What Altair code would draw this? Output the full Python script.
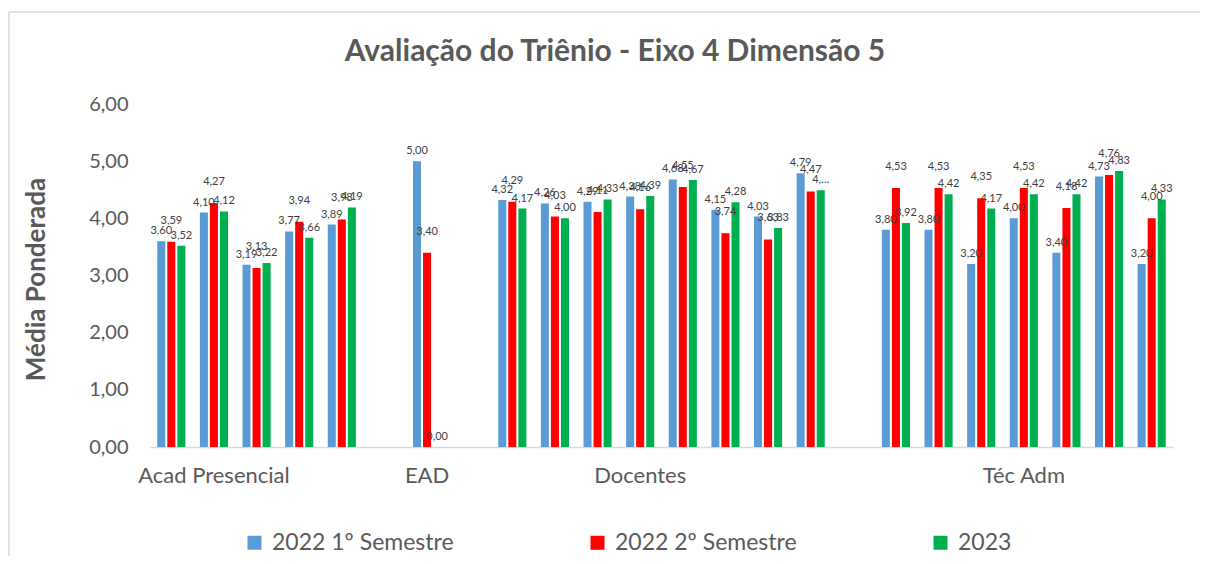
import altair as alt
import pandas as pd

title_text = "Avaliação do Triênio - Eixo 4 Dimensão 5"
y_title = "Média Ponderada"
series_names = ["2022 1º Semestre", "2022 2º Semestre", "2023"]
series_colors = ["#5B9BD5", "#FF0000", "#00B050"]
n_slots = 24
slots = [0, 1, 2, 3, 4, 6, 8, 9, 10, 11, 12, 13, 14, 15, 17, 18, 19, 20, 21, 22, 23]
s1 = [3.60, 4.10, 3.19, 3.77, 3.89, 5.00, 4.32, 4.26, 4.29, 4.38, 4.68, 4.15, 4.03, 4.79,
      3.80, 3.80, 3.20, 4.00, 3.40, 4.73, 3.20]
s2 = [3.59, 4.27, 3.13, 3.94, 3.98, 3.40, 4.29, 4.03, 4.11, 4.16, 4.55, 3.74, 3.63, 4.47,
      4.53, 4.53, 4.35, 4.53, 4.18, 4.76, 4.00]
s3 = [3.52, 4.12, 3.22, 3.66, 4.19, 0.00, 4.17, 4.00, 4.33, 4.39, 4.67, 4.28, 3.83, 4.49,
      3.92, 4.42, 4.17, 4.42, 4.42, 4.83, 4.33]
group_names = ["Acad Presencial", "EAD", "Docentes", "Téc Adm"]
group_label_slots = [1, 6, 11, 20]
y_ticks = [0, 1, 2, 3, 4, 5, 6]
truncated_labels = {(15, "2023"): "4,…"}

rows = []
for sname, vals in zip(series_names, [s1, s2, s3]):
    for slot, v in zip(slots, vals):
        lab = truncated_labels.get((slot, sname), f"{v:.2f}".replace(".", ","))
        rows.append(dict(slot=slot, series=sname, value=v, label=lab))
df = pd.DataFrame(rows)

label_expr = ""
for s, g in zip(group_label_slots, group_names):
    label_expr += f"datum.value == {s} ? '{g}' : "
label_expr += "''"

FONT = "Lato"
GREY = "#595959"

x_enc = alt.X(
    "slot:O",
    scale=alt.Scale(domain=list(range(n_slots)), paddingInner=0.34, paddingOuter=0.17),
    axis=alt.Axis(title=None, labelExpr=label_expr, ticks=False, domainColor="#D9D9D9",
                  domainWidth=1.5, labelFontSize=22, labelColor=GREY, labelPadding=18,
                  labelAngle=0, labelOverlap=False, labelFont=FONT, labelLimit=400),
)
xo_enc = alt.XOffset("series:N", scale=alt.Scale(domain=series_names, paddingInner=0.2))
y_enc = alt.Y(
    "value:Q",
    scale=alt.Scale(domain=[0, 6], nice=False),
    axis=alt.Axis(values=y_ticks, labelExpr="replace(format(datum.value, '.2f'), '.', ',')",
                  grid=False, domain=False, ticks=False, labelFontSize=20, labelColor=GREY,
                  labelFont=FONT, labelPadding=22, title=y_title, titleFontSize=26,
                  titleFont=FONT, titleFontWeight="bold", titleColor=GREY, titleX=-114,
                  titleY=175, titleAngle=-90, titleBaseline="middle", titleAlign="center"),
)

base = alt.Chart(df)
bars = base.mark_bar().encode(
    x=x_enc, xOffset=xo_enc, y=y_enc,
    color=alt.Color("series:N", scale=alt.Scale(domain=series_names, range=series_colors),
                    legend=alt.Legend(title=None, orient="none", direction="horizontal",
                                      legendX=93, legendY=427, columns=3)),
)
labels_outer = base.transform_filter(alt.datum.series != series_names[1]).mark_text(
    baseline="bottom", dy=-5, fontSize=11, color="#404040", font=FONT
).encode(x=x_enc, xOffset=xo_enc, y="value:Q", text="label:N")
labels_mid = base.transform_filter(alt.datum.series == series_names[1]).mark_text(
    baseline="bottom", dy=-16, fontSize=11, color="#404040", font=FONT
).encode(x=x_enc, xOffset=xo_enc, y="value:Q", text="label:N")

blank = alt.Data(values=[{"k": 1}])
title = alt.Chart(blank).mark_text(fontSize=30, fontWeight="bold", color=GREY, font=FONT,
                                   align="center", baseline="middle").encode(
    x=alt.value(465), y=alt.value(-52), text=alt.value(title_text)
)
border_left = alt.Chart(blank).mark_rule(stroke="#D9D9D9", strokeWidth=1.5).encode(
    x=alt.value(-141), y=alt.value(-92), y2=alt.value(500)
)
border_top = alt.Chart(blank).mark_rule(stroke="#D9D9D9", strokeWidth=1.5).encode(
    x=alt.value(-141), x2=alt.value(1050), y=alt.value(-92)
)

chart = alt.layer(border_left, border_top, bars, labels_outer, labels_mid, title).properties(
    width=1023, height=343,
    padding={"left": 142, "top": 96, "right": 27, "bottom": 109},
    autosize="none",
).configure_view(stroke=None).configure_legend(
    gridAlign="all", columnPadding=132, labelFontSize=23, labelColor=GREY, labelFont=FONT,
    symbolType="square", symbolSize=196, symbolStrokeWidth=0, labelOffset=6, padding=0,
    labelLimit=400,
)

chart.save("out.html", embed_options={"renderer": "svg", "actions": False})
